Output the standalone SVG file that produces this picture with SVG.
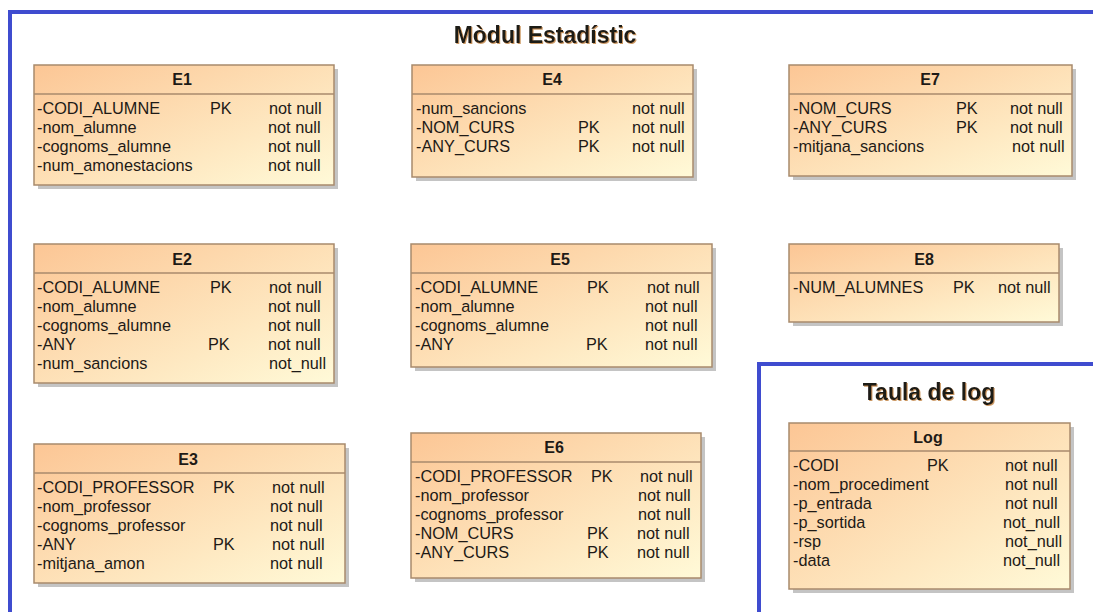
<svg xmlns="http://www.w3.org/2000/svg" width="1093" height="612" viewBox="0 0 1093 612">
<style>
.frame{fill:none;stroke:#3f4ccf;stroke-width:4}
.box{fill:url(#g);stroke:#a88a6c;stroke-width:1.5}
.sh{fill:#c4c4c4}
.hl{stroke:#a88a6c;stroke-width:1.5}
text{font-family:"Liberation Sans",Arial,sans-serif;fill:#1e1a16}
.t{font-size:16px;font-weight:bold;text-anchor:middle}
.r{font-size:16.3px}
.big{font-size:23px;font-weight:bold;text-anchor:middle;filter:url(#ts)}
</style>
<defs>
<linearGradient id="g" x1="0" y1="0" x2="1" y2="1">
<stop offset="0" stop-color="#fcc695"/>
<stop offset="1" stop-color="#fffad8"/>
</linearGradient>
<filter id="ts" x="-5%" y="-20%" width="110%" height="150%">
<feDropShadow dx="1" dy="1" stdDeviation="0.6" flood-color="#c08040" flood-opacity="0.8"/>
</filter>
</defs>
<rect width="1093" height="612" fill="#fff"/>
<g id="frames">
<path class="frame" d="M10,612 V12 H1093"/>
<path class="frame" d="M759,612 V364 H1093"/>
<text class="big" x="545" y="43">Mòdul Estadístic</text>
<text class="big" x="929" y="400">Taula de log</text>
</g>
<g id="connectors"></g>
<g id="E1">
<rect class="sh" x="38" y="69" width="300" height="120"/>
<rect class="box" x="34" y="65" width="300" height="120"/>
<line class="hl" x1="34" y1="94" x2="334" y2="94"/>
<text class="t" x="182" y="85">E1</text>
<text class="r" x="37" y="114">-CODI_ALUMNE</text><text class="r" x="210" y="114">PK</text><text class="r" x="269" y="114">not null</text>
<text class="r" x="37" y="133">-nom_alumne</text><text class="r" x="268" y="133">not null</text>
<text class="r" x="37" y="152">-cognoms_alumne</text><text class="r" x="268" y="152">not null</text>
<text class="r" x="37" y="171">-num_amonestacions</text><text class="r" x="268" y="171">not null</text>
</g>
<g id="E4">
<rect class="sh" x="416" y="69" width="281" height="112"/>
<rect class="box" x="412" y="65" width="281" height="112"/>
<line class="hl" x1="412" y1="94" x2="693" y2="94"/>
<text class="t" x="552" y="85">E4</text>
<text class="r" x="416" y="114">-num_sancions</text><text class="r" x="632" y="114">not null</text>
<text class="r" x="416" y="133">-NOM_CURS</text><text class="r" x="578" y="133">PK</text><text class="r" x="632" y="133">not null</text>
<text class="r" x="416" y="152">-ANY_CURS</text><text class="r" x="578" y="152">PK</text><text class="r" x="632" y="152">not null</text>
</g>
<g id="E7">
<rect class="sh" x="793" y="69" width="283" height="111"/>
<rect class="box" x="789" y="65" width="283" height="111"/>
<line class="hl" x1="789" y1="94" x2="1072" y2="94"/>
<text class="t" x="930" y="85">E7</text>
<text class="r" x="793" y="114">-NOM_CURS</text><text class="r" x="956" y="114">PK</text><text class="r" x="1010" y="114">not null</text>
<text class="r" x="793" y="133">-ANY_CURS</text><text class="r" x="956" y="133">PK</text><text class="r" x="1010" y="133">not null</text>
<text class="r" x="793" y="152">-mitjana_sancions</text><text class="r" x="1012" y="152">not null</text>
</g>
<g id="E2">
<rect class="sh" x="38" y="248" width="300" height="139"/>
<rect class="box" x="34" y="244" width="300" height="139"/>
<line class="hl" x1="34" y1="273" x2="334" y2="273"/>
<text class="t" x="182" y="265">E2</text>
<text class="r" x="37" y="293">-CODI_ALUMNE</text><text class="r" x="210" y="293">PK</text><text class="r" x="269" y="293">not null</text>
<text class="r" x="37" y="312">-nom_alumne</text><text class="r" x="268" y="312">not null</text>
<text class="r" x="37" y="331">-cognoms_alumne</text><text class="r" x="268" y="331">not null</text>
<text class="r" x="37" y="350">-ANY</text><text class="r" x="208" y="350">PK</text><text class="r" x="268" y="350">not null</text>
<text class="r" x="37" y="369">-num_sancions</text><text class="r" x="269" y="369">not_null</text>
</g>
<g id="E5">
<rect class="sh" x="415" y="248" width="301" height="123"/>
<rect class="box" x="411" y="244" width="301" height="123"/>
<line class="hl" x1="411" y1="273" x2="712" y2="273"/>
<text class="t" x="560" y="265">E5</text>
<text class="r" x="415" y="293">-CODI_ALUMNE</text><text class="r" x="587" y="293">PK</text><text class="r" x="647" y="293">not null</text>
<text class="r" x="415" y="312">-nom_alumne</text><text class="r" x="645" y="312">not null</text>
<text class="r" x="415" y="331">-cognoms_alumne</text><text class="r" x="645" y="331">not null</text>
<text class="r" x="415" y="350">-ANY</text><text class="r" x="586" y="350">PK</text><text class="r" x="645" y="350">not null</text>
</g>
<g id="E8">
<rect class="sh" x="793" y="248" width="270" height="78"/>
<rect class="box" x="789" y="244" width="270" height="78"/>
<line class="hl" x1="789" y1="273" x2="1059" y2="273"/>
<text class="t" x="924" y="265">E8</text>
<text class="r" x="793" y="293">-NUM_ALUMNES</text><text class="r" x="953" y="293">PK</text><text class="r" x="998" y="293">not null</text>
</g>
<g id="E3">
<rect class="sh" x="38" y="448" width="311" height="139"/>
<rect class="box" x="34" y="444" width="311" height="139"/>
<line class="hl" x1="34" y1="473" x2="345" y2="473"/>
<text class="t" x="188" y="465">E3</text>
<text class="r" x="37" y="493">-CODI_PROFESSOR</text><text class="r" x="213" y="493">PK</text><text class="r" x="272" y="493">not null</text>
<text class="r" x="37" y="512">-nom_professor</text><text class="r" x="270" y="512">not null</text>
<text class="r" x="37" y="531">-cognoms_professor</text><text class="r" x="270" y="531">not null</text>
<text class="r" x="37" y="550">-ANY</text><text class="r" x="213" y="550">PK</text><text class="r" x="272" y="550">not null</text>
<text class="r" x="37" y="569">-mitjana_amon</text><text class="r" x="270" y="569">not null</text>
</g>
<g id="E6">
<rect class="sh" x="415" y="437" width="290" height="145"/>
<rect class="box" x="411" y="433" width="290" height="145"/>
<line class="hl" x1="411" y1="462" x2="701" y2="462"/>
<text class="t" x="554" y="453">E6</text>
<text class="r" x="415" y="482">-CODI_PROFESSOR</text><text class="r" x="591" y="482">PK</text><text class="r" x="640" y="482">not null</text>
<text class="r" x="415" y="501">-nom_professor</text><text class="r" x="638" y="501">not null</text>
<text class="r" x="415" y="520">-cognoms_professor</text><text class="r" x="638" y="520">not null</text>
<text class="r" x="415" y="539">-NOM_CURS</text><text class="r" x="587" y="539">PK</text><text class="r" x="637" y="539">not null</text>
<text class="r" x="415" y="558">-ANY_CURS</text><text class="r" x="587" y="558">PK</text><text class="r" x="637" y="558">not null</text>
</g>
<g id="Log">
<rect class="sh" x="793" y="427" width="281" height="166"/>
<rect class="box" x="789" y="423" width="281" height="166"/>
<line class="hl" x1="789" y1="451" x2="1070" y2="451"/>
<text class="t" x="928" y="443">Log</text>
<text class="r" x="793" y="471">-CODI</text><text class="r" x="927" y="471">PK</text><text class="r" x="1005" y="471">not null</text>
<text class="r" x="793" y="490">-nom_procediment</text><text class="r" x="1005" y="490">not null</text>
<text class="r" x="793" y="509">-p_entrada</text><text class="r" x="1005" y="509">not null</text>
<text class="r" x="793" y="528">-p_sortida</text><text class="r" x="1003" y="528">not_null</text>
<text class="r" x="793" y="547">-rsp</text><text class="r" x="1005" y="547">not_null</text>
<text class="r" x="793" y="566">-data</text><text class="r" x="1003" y="566">not_null</text>
</g>
</svg>
